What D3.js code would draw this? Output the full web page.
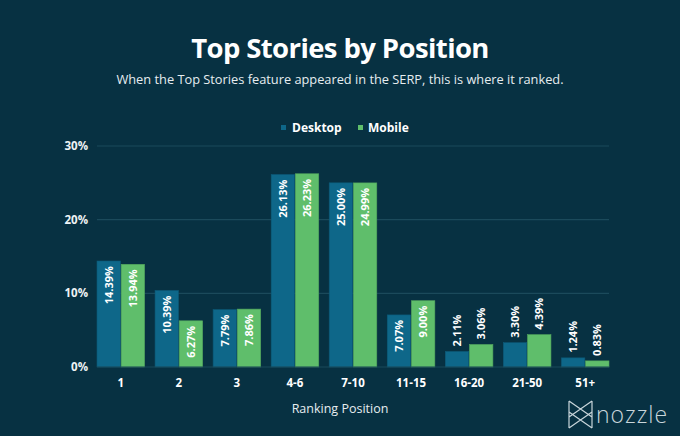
<!DOCTYPE html>
<html><head><meta charset="utf-8">
<script src="https://cdn.jsdelivr.net/npm/d3@7"></script>
<style>html,body{margin:0;padding:0;background:#073142;}svg{display:block;}</style>
</head><body>
<script>
const categories = ["1","2","3","4-6","7-10","11-15","16-20","21-50","51+"];
const desktop = [14.39,10.39,7.79,26.13,25.00,7.07,2.11,3.30,1.24];
const mobile  = [13.94,6.27,7.86,26.23,24.99,9.00,3.06,4.39,0.83];
const seriesNames = ["Desktop","Mobile"];
const yTicks = [0,10,20,30];

const W=680,H=436;
const colors={Desktop:"#0e6789",Mobile:"#5fbe6b"};
const font="'Open Sans', sans-serif";
const svg=d3.select("body").append("svg").attr("width",W).attr("height",H);
svg.append("rect").attr("width",W).attr("height",H).attr("fill","#073142");

svg.append("text").attr("x",340).attr("y",58).attr("text-anchor","middle")
 .attr("fill","#fff").attr("font-family",font).attr("font-weight",700).attr("font-size",27.5)
 .attr("letter-spacing","-0.6").text("Top Stories by Position");
svg.append("text").attr("x",340).attr("y",84).attr("text-anchor","middle")
 .attr("fill","#e6edf0").attr("font-family",font).attr("font-size",12.8)
 .text("When the Top Stories feature appeared in the SERP, this is where it ranked.");

// legend
const leg=[{n:"Desktop",sx:281,tx:292},{n:"Mobile",sx:358,tx:368}];
leg.forEach(l=>{
  svg.append("rect").attr("x",l.sx).attr("y",125).attr("width",5).attr("height",5).attr("fill",colors[l.n]);
  svg.append("text").attr("x",l.tx).attr("y",132).attr("fill","#fff").attr("font-family",font)
   .attr("font-weight",700).attr("font-size",12).text(l.n);
});

const x0=d3.scaleBand().domain(categories).range([97,609]).paddingInner(0.18).paddingOuter(0);
const x1=d3.scaleBand().domain(seriesNames).range([0,x0.bandwidth()]).paddingInner(0.03);
const y=d3.scaleLinear().domain([0,30]).range([367,146]);

// grid
svg.append("g").selectAll("line").data(yTicks.slice(1)).join("line")
 .attr("x1",97).attr("x2",609).attr("y1",d=>y(d)).attr("y2",d=>y(d))
 .attr("stroke","#1b4a5b").attr("stroke-width",1.2);
svg.append("g").selectAll("text").data(yTicks).join("text")
 .attr("x",88).attr("y",d=>y(d)+4).attr("text-anchor","end").attr("fill","#eef3f5")
 .attr("font-family",font).attr("font-weight",700).attr("font-size",11.5).text(d=>d+"%");

const data=categories.map((c,i)=>({c,vals:[{s:"Desktop",v:desktop[i]},{s:"Mobile",v:mobile[i]}]}));
const g=svg.append("g").selectAll("g").data(data).join("g").attr("transform",d=>`translate(${x0(d.c)},0)`);
g.selectAll("rect").data(d=>d.vals).join("rect")
 .attr("x",d=>x1(d.s)).attr("width",x1.bandwidth())
 .attr("y",d=>y(d.v)).attr("height",d=>y(0)-y(d.v))
 .attr("fill",d=>colors[d.s]).attr("stroke",d=>d3.color(colors[d.s]).darker(0.4)).attr("stroke-width",0.6);
g.selectAll("text").data(d=>d.vals).join("text")
 .attr("transform",d=>{
   const cx=x1(d.s)+x1.bandwidth()/2+4;
   const inside=(y(0)-y(d.v))>45;
   const ty=inside? y(d.v)+5 : y(d.v)-5;
   return `translate(${cx},${ty}) rotate(-90)`;
 })
 .attr("text-anchor",d=>(y(0)-y(d.v))>45?"end":"start")
 .attr("fill","#fff").attr("font-family",font).attr("font-weight",700).attr("font-size",11)
 .text(d=>d.v.toFixed(2)+"%");

// baseline
svg.append("line").attr("x1",97).attr("x2",609).attr("y1",y(0)).attr("y2",y(0)).attr("stroke","#1b4a5b").attr("stroke-width",1);

svg.append("g").selectAll("text").data(categories).join("text")
 .attr("x",d=>x0(d)+x0.bandwidth()/2).attr("y",387).attr("text-anchor","middle")
 .attr("fill","#fff").attr("font-family",font).attr("font-weight",700).attr("font-size",11.5).text(d=>d);
svg.append("text").attr("x",340).attr("y",413).attr("text-anchor","middle").attr("fill","#e6edf0")
 .attr("font-family",font).attr("font-size",12.5).text("Ranking Position");

// logo
const lg=svg.append("g").attr("fill","none").attr("stroke","#c9d6db").attr("stroke-width",1.2);
lg.append("path").attr("d","M569,401 L569,428 M592,401 L592,428 M569,401 L592,417 M569,428 L592,412 M569,412 L592,428 M569,417 L592,401");
svg.append("text").attr("x",596).attr("y",423).attr("fill","#c9d6db").attr("font-family",font)
 .attr("font-weight",300).attr("font-size",23).attr("letter-spacing","1").text("nozzle");
</script>
</body></html>
